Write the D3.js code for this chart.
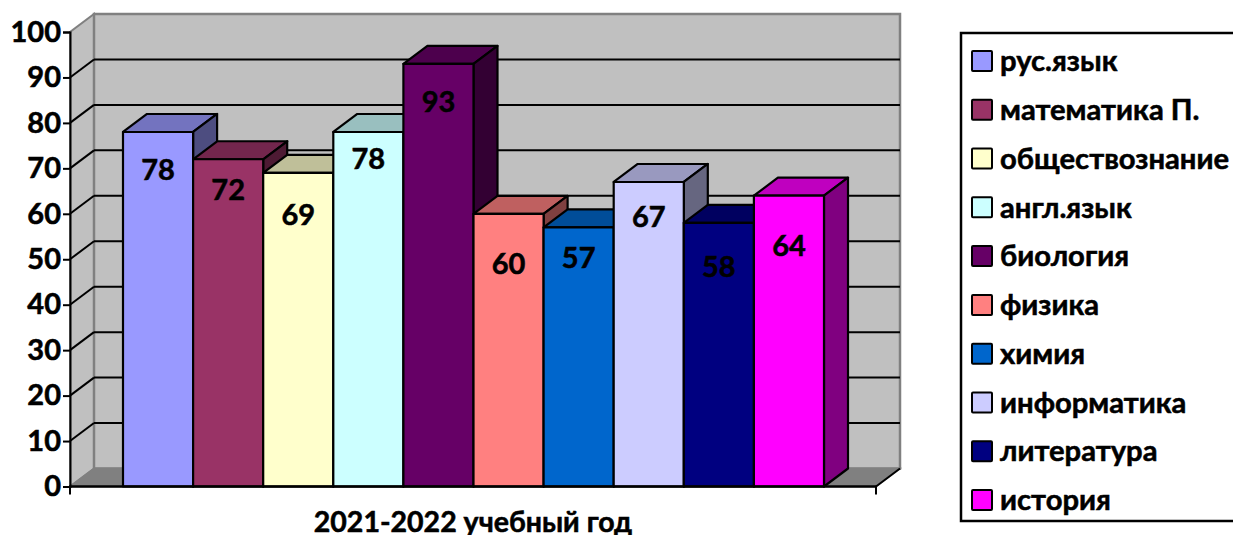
<!DOCTYPE html>
<html><head><meta charset="utf-8">
<script src="https://cdn.jsdelivr.net/npm/d3@7/dist/d3.min.js"></script>
<style>html,body{margin:0;padding:0;background:#fff;overflow:hidden}svg{display:block}text{font-family:Lato,"Open Sans",sans-serif;font-weight:700;fill:#000;stroke:#000;stroke-width:.55px}</style>
</head><body><svg id="c" width="1233" height="535"></svg>
<script>
const subjects = ["рус.язык","математика П.","обществознание","англ.язык","биология","физика","химия","информатика","литература","история"];
const scores = [78,72,69,78,93,60,57,67,58,64];
const colors = ["#9999FF","#993366","#FFFFCC","#CCFFFF","#660066","#FF8080","#0066CC","#CCCCFF","#000080","#FF00FF"];
const yTicks = [0,10,20,30,40,50,60,70,80,90,100];
const groupLabel = "2021-2022 учебный год";
const labelShift = [38,31,42,27,38,50,30,35,44,50];

const svg = d3.select("#c");
const L=70,R=876,DX=24,DY=-18;
const y = d3.scaleLinear().domain([0,100]).range([486.5,32]);
const x = d3.scaleBand().domain(subjects).range([123,824]);
const shade=(c,k)=>{const r=d3.rgb(c);return d3.rgb(r.r*k,r.g*k,r.b*k).formatHex();};
const pts=a=>a.map(p=>p.join(",")).join(" ");
const y0=y(0),yT=y(100);

// walls and floor
svg.append("polygon").attr("points",pts([[L,y0],[L+DX,y0+DY],[L+DX,yT+DY],[L,yT]])).attr("fill","#c0c0c0").attr("stroke","#808080").attr("stroke-width",2);
svg.append("rect").attr("x",L+DX).attr("y",yT+DY).attr("width",R-L).attr("height",y0-yT).attr("fill","#c0c0c0").attr("stroke","#808080").attr("stroke-width",2.5);
svg.append("polygon").attr("points",pts([[L,y0],[R,y0],[R+DX,y0+DY],[L+DX,y0+DY]])).attr("fill","#808080").attr("stroke","#808080").attr("stroke-width",1.5);
svg.append("line").attr("x1",R).attr("y1",y0).attr("x2",R+DX).attr("y2",y0+DY).attr("stroke","#000").attr("stroke-width",2);

// gridlines
const grid=yTicks.filter(t=>t>0&&t<100);
svg.append("g").selectAll("line").data(grid).join("line").attr("x1",L+DX).attr("x2",R+DX).attr("y1",d=>y(d)+DY).attr("y2",d=>y(d)+DY).attr("stroke","#000").attr("stroke-width",2);
svg.append("g").selectAll("line").data(grid).join("line").attr("x1",L).attr("x2",L+DX).attr("y1",d=>y(d)).attr("y2",d=>y(d)+DY).attr("stroke","#000").attr("stroke-width",2);

// bars
const bars=svg.append("g").attr("stroke","#000").attr("stroke-width",2.2).attr("stroke-linejoin","round");
subjects.forEach((s,i)=>{
  const a=x(s),b=a+x.bandwidth(),t=y(scores[i]),c=colors[i];
  bars.append("polygon").attr("points",pts([[a,t],[b,t],[b+DX,t+DY],[a+DX,t+DY]])).attr("fill",shade(c,.75));
  bars.append("polygon").attr("points",pts([[b,t],[b+DX,t+DY],[b+DX,y0+DY],[b,y0]])).attr("fill",shade(c,.5));
  bars.append("rect").attr("x",a).attr("y",t).attr("width",x.bandwidth()).attr("height",y0-t).attr("fill",c);
});

// axes
const ax=svg.append("g").attr("transform",`translate(${L},0)`).call(d3.axisLeft(y).tickValues(yTicks).tickSize(7).tickPadding(2));
ax.selectAll("line,path").attr("stroke","#000").attr("stroke-width",2);
ax.selectAll("text").attr("font-size",29).attr("fill","#000").style("font-family",'Lato,"Open Sans",sans-serif').style("font-weight",700);
svg.append("line").attr("x1",L-1).attr("x2",R+1).attr("y1",y0).attr("y2",y0).attr("stroke","#000").attr("stroke-width",2.5);
svg.append("g").selectAll("line").data([L,R]).join("line").attr("x1",d=>d).attr("x2",d=>d).attr("y1",y0).attr("y2",y0+8).attr("stroke","#000").attr("stroke-width",2);

// value labels
svg.append("g").selectAll("text").data(scores).join("text")
  .attr("x",(d,i)=>x(subjects[i])+x.bandwidth()/2)
  .attr("y",(d,i)=>y(d)+labelShift[i]).attr("dy","0.35em")
  .attr("text-anchor","middle").attr("font-size",29).text(d=>d);

// category label
svg.append("text").attr("x",473).attr("y",522).attr("dy","0.35em").attr("text-anchor","middle").attr("font-size",28.5).text(groupLabel);

// legend
svg.append("rect").attr("x",961).attr("y",33).attr("width",300).attr("height",488).attr("fill","#fff").attr("stroke","#000").attr("stroke-width",2.5);
const ly=d3.scalePoint().domain(subjects).range([61,500]);
const lg=svg.append("g").selectAll("g").data(subjects).join("g").attr("transform",d=>`translate(972,${ly(d)})`);
lg.append("rect").attr("x",0).attr("y",-10).attr("width",20).attr("height",20).attr("rx",1).attr("fill",(d,i)=>colors[i]).attr("stroke","#000").attr("stroke-width",2);
lg.append("text").attr("x",28).attr("dy","0.35em").attr("font-size",29.2).text(d=>d);
</script></body></html>
